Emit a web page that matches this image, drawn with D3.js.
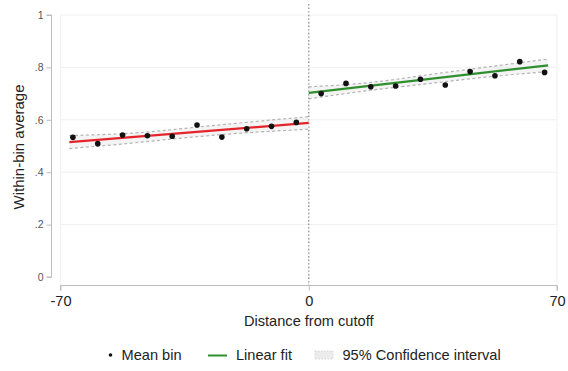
<!DOCTYPE html>
<html>
<head>
<meta charset="utf-8">
<script src="https://cdn.jsdelivr.net/npm/d3@7"></script>
<style>
  html, body { margin: 0; padding: 0; background: #fff; }
  svg { display: block; font-family: "Liberation Sans", Arial, sans-serif; }
</style>
</head>
<body>
<svg id="chart" width="568" height="371"></svg>
<script>
// Bin centres (distance from cutoff) and mean outcome in each bin
const leftBins = [-66.5, -59.5, -52.5, -45.5, -38.5, -31.5, -24.5, -17.5, -10.5, -3.5];
const leftMeans = [0.533, 0.509, 0.542, 0.539, 0.537, 0.580, 0.534, 0.566, 0.575, 0.590];
const rightBins = [3.5, 10.5, 17.5, 24.5, 31.5, 38.5, 45.5, 52.5, 59.5, 66.5];
const rightMeans = [0.700, 0.739, 0.726, 0.729, 0.755, 0.733, 0.784, 0.768, 0.822, 0.781];

// Linear fits on each side of the cutoff (end points)
const leftFitX = [-67.5, 0];
const leftFitY = [0.515, 0.588];
const rightFitX = [0, 67.5];
const rightFitY = [0.703, 0.808];

// 95% confidence bands
const leftCiX = [-67.5, -50, -33.75, -17, 0];
const leftCiLo = [0.490, 0.511, 0.533, 0.551, 0.564];
const leftCiHi = [0.540, 0.549, 0.569, 0.591, 0.612];
const rightCiX = [0, 17, 33.75, 50, 67.5];
const rightCiLo = [0.680, 0.712, 0.738, 0.763, 0.784];
const rightCiHi = [0.726, 0.742, 0.772, 0.801, 0.832];

const xTicks = [-70, 0, 70];
const xTickLabels = ["-70", "0", "70"];
const yTicks = [0, 0.2, 0.4, 0.6, 0.8, 1];
const yTickLabels = ["0", ".2", ".4", ".6", ".8", "1"];

const svg = d3.select("#chart");
const x = d3.scaleLinear().domain([-70, 70]).range([60.5, 557]);
const y = d3.scaleLinear().domain([0, 1]).range([277, 15]);

// Background grid
const grid = svg.append("g");
grid.selectAll("line.h").data(yTicks.filter(d => d > 0)).join("line")
  .attr("x1", x(-70)).attr("x2", x(70))
  .attr("y1", d => y(d)).attr("y2", d => y(d))
  .attr("stroke", "#f0f0f0").attr("stroke-width", 1);
grid.selectAll("line.v").data(xTicks).join("line")
  .attr("y1", y(1)).attr("y2", 285)
  .attr("x1", d => x(d)).attr("x2", d => x(d))
  .attr("stroke", "#f0f0f0").attr("stroke-width", 1);

// Y axis
const yAxis = svg.append("g").attr("transform", "translate(51.5,0)")
  .call(d3.axisLeft(y).tickValues(yTicks).tickSize(5).tickPadding(3)
    .tickFormat((d, i) => yTickLabels[i]));
yAxis.select(".domain").attr("stroke", "#bdbdbd").attr("d", `M-5,${y(1)}H0V${y(0)}H-5`);
yAxis.selectAll(".tick line").attr("stroke", "#bdbdbd");
yAxis.selectAll(".tick text").attr("fill", "#555").attr("font-size", 10.5)
  .attr("font-family", "Liberation Sans, Arial, sans-serif");

// X axis
const xAxis = svg.append("g").attr("transform", "translate(0,285.5)")
  .call(d3.axisBottom(x).tickValues(xTicks).tickSize(5).tickPadding(5)
    .tickFormat((d, i) => xTickLabels[i]));
xAxis.select(".domain").attr("stroke", "#bdbdbd").attr("d", `M${x(-70)},5V0H${x(70)}V5`);
xAxis.selectAll(".tick line").attr("stroke", "#bdbdbd");
xAxis.selectAll(".tick text").attr("fill", "#222").attr("font-size", 14.6)
  .attr("font-family", "Liberation Sans, Arial, sans-serif");

// Axis titles
svg.append("text").attr("x", x(0)).attr("y", 326).attr("text-anchor", "middle")
  .attr("font-size", 14.6).attr("fill", "#222").text("Distance from cutoff");
svg.append("text").attr("transform", `translate(24,${(y(0) + y(1)) / 2 + 1}) rotate(-90)`)
  .attr("text-anchor", "middle").attr("font-size", 15).attr("fill", "#222").text("Within-bin average");

// Cutoff marker
svg.append("line").attr("x1", x(0)).attr("x2", x(0)).attr("y1", 4).attr("y2", 285)
  .attr("stroke", "#9a9a9a").attr("stroke-width", 1.4).attr("stroke-dasharray", "1.4,2.2");

// Confidence bands
function band(xs, lo, hi) {
  const rows = xs.map((v, i) => ({ x: v, lo: lo[i], hi: hi[i] }));
  svg.append("path").datum(rows)
    .attr("d", d3.area().x(d => x(d.x)).y0(d => y(d.lo)).y1(d => y(d.hi)).curve(d3.curveNatural))
    .attr("fill", "#e6e6e6").attr("fill-opacity", 0.45);
  ["lo", "hi"].forEach(k => {
    svg.append("path").datum(rows)
      .attr("d", d3.line().x(d => x(d.x)).y(d => y(d[k])).curve(d3.curveNatural))
      .attr("fill", "none").attr("stroke", "#b3b3b3").attr("stroke-width", 1.2)
      .attr("stroke-dasharray", "3,2.5");
  });
}
band(leftCiX, leftCiLo, leftCiHi);
band(rightCiX, rightCiLo, rightCiHi);

// Fitted lines
function fit(xs, ys, color) {
  svg.append("path").datum(xs.map((v, i) => [v, ys[i]]))
    .attr("d", d3.line().x(d => x(d[0])).y(d => y(d[1])))
    .attr("fill", "none").attr("stroke", color).attr("stroke-width", 2.2);
}
fit(leftFitX, leftFitY, "#e4242a");
fit(rightFitX, rightFitY, "#2f8f2f");

// Bin means
function dots(xs, ys) {
  svg.append("g").selectAll("circle").data(xs.map((v, i) => [v, ys[i]])).join("circle")
    .attr("cx", d => x(d[0])).attr("cy", d => y(d[1])).attr("r", 2.8).attr("fill", "#111");
}
dots(leftBins, leftMeans);
dots(rightBins, rightMeans);

// Legend
const lg = svg.append("g").attr("font-size", 14.6).attr("fill", "#222");
lg.append("circle").attr("cx", 110.5).attr("cy", 355).attr("r", 1.8).attr("fill", "#111");
lg.append("text").attr("x", 121.5).attr("y", 360).text("Mean bin");
lg.append("line").attr("x1", 208).attr("x2", 227).attr("y1", 355.5).attr("y2", 355.5)
  .attr("stroke", "#2f8f2f").attr("stroke-width", 2);
lg.append("text").attr("x", 236).attr("y", 360).text("Linear fit");
lg.append("rect").attr("x", 315).attr("y", 351).attr("width", 18).attr("height", 8)
  .attr("fill", "#ececec").attr("stroke", "#d6d6d6").attr("stroke-width", 1)
  .attr("stroke-dasharray", "1.5,1.5");
lg.append("text").attr("x", 342.5).attr("y", 360).text("95% Confidence interval");
</script>
</body>
</html>
